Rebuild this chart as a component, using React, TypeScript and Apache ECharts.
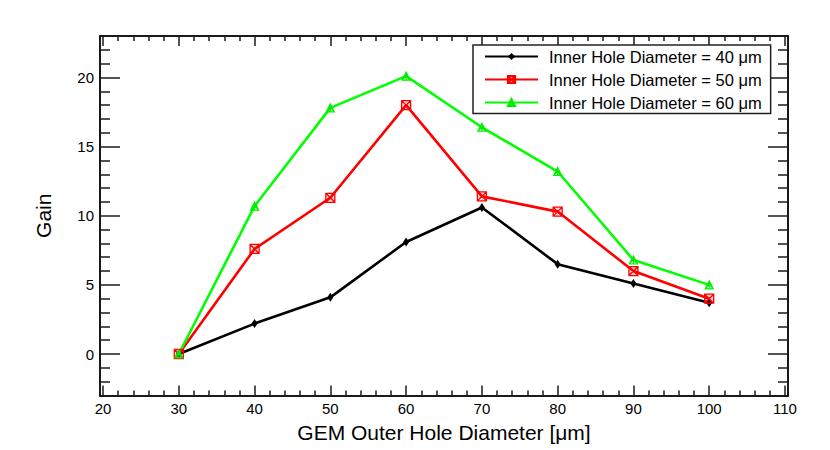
import React, { useEffect, useRef } from "react";
import * as echarts from "echarts";

const outerDiameter = [30, 40, 50, 60, 70, 80, 90, 100];
const gainInner40 = [0, 2.2, 4.1, 8.1, 10.6, 6.5, 5.1, 3.7];
const gainInner50 = [0, 7.6, 11.3, 18.0, 11.4, 10.3, 6.0, 4.0];
const gainInner60 = [0, 10.7, 17.8, 20.1, 16.4, 13.2, 6.8, 5.0];

const seriesNames = [
  "Inner Hole Diameter = 40 \u03bcm",
  "Inner Hole Diameter = 50 \u03bcm",
  "Inner Hole Diameter = 60 \u03bcm",
];

const xMajorTicks = [20, 30, 40, 50, 60, 70, 80, 90, 100, 110];
const xMinorTicks = [22, 24, 26, 28, 32, 34, 36, 38, 42, 44, 46, 48, 52, 54, 56, 58, 62, 64, 66, 68, 72, 74, 76, 78, 82, 84, 86, 88, 92, 94, 96, 98, 102, 104, 106, 108];
const yMajorTicks = [0, 5, 10, 15, 20];
const yMinorTicks = [-2, -1, 1, 2, 3, 4, 6, 7, 8, 9, 11, 12, 13, 14, 16, 17, 18, 19, 21, 22];

const X_MIN = 19.6;
const X_MAX = 110.4;
const Y_MIN = -3;
const Y_MAX = 23;

const FONT = "'Liberation Sans', Arial, Helvetica, sans-serif";
const AXIS_COLOR = "#1a1a1a";

const squareX = "path://M0,0 L10,0 L10,10 L0,10 Z M0,0 L10,10 M10,0 L0,10";
const triStar = "path://M5,0 L10,10 L0,10 Z M5,0 L5,10 M2,5 L8,5 M0,10 L5,4 L10,10";

function xAxisDef(position: "bottom" | "top", ticks: number[], len: number, main: boolean, withLabels: boolean) {
  return {
    type: "value",
    position,
    min: X_MIN,
    max: X_MAX,
    splitLine: { show: false },
    axisLine: { show: main, onZero: false, lineStyle: { color: AXIS_COLOR, width: 2 } },
    axisTick: {
      show: true,
      inside: true,
      length: len,
      customValues: ticks,
      lineStyle: { color: AXIS_COLOR, width: 1.5 },
    },
    axisLabel: withLabels
      ? { show: true, customValues: ticks, fontSize: 15, color: "#000", fontFamily: FONT, margin: 5 }
      : { show: false },
    name: withLabels ? "GEM Outer Hole Diameter [\u03bcm]" : "",
    nameLocation: "middle",
    nameGap: 26,
    nameTextStyle: { fontSize: 21, color: "#000", fontFamily: FONT },
  };
}

function yAxisDef(position: "left" | "right", ticks: number[], len: number, main: boolean, withLabels: boolean) {
  return {
    type: "value",
    position,
    min: Y_MIN,
    max: Y_MAX,
    splitLine: { show: false },
    axisLine: { show: main, onZero: false, lineStyle: { color: AXIS_COLOR, width: 2 } },
    axisTick: {
      show: true,
      inside: true,
      length: len,
      customValues: ticks,
      lineStyle: { color: AXIS_COLOR, width: 1.5 },
    },
    axisLabel: withLabels
      ? { show: true, customValues: ticks, fontSize: 15, color: "#000", fontFamily: FONT, margin: 6 }
      : { show: false },
    name: withLabels ? "Gain" : "",
    nameLocation: "middle",
    nameGap: 46,
    nameTextStyle: { fontSize: 21, color: "#000", fontFamily: FONT },
  };
}

export default function App() {
  const ref = useRef<HTMLDivElement>(null);

  useEffect(() => {
    if (!ref.current) return;
    const chart = echarts.init(ref.current, null, { renderer: "svg" });
    const pairs = (ys: number[]) => outerDiameter.map((x, i) => [x, ys[i]]);

    const option = {
      animation: false,
      backgroundColor: "#fff",
      textStyle: { fontFamily: FONT },
      grid: { left: 100, right: 42, top: 36, bottom: 54.5, containLabel: false },
      legend: {
        orient: "vertical",
        left: 473,
        top: 45,
        padding: [3, 9, 2.5, 11],
        itemGap: 6,
        itemWidth: 53,
        itemHeight: 9,
        borderColor: "#222",
        borderWidth: 1.5,
        backgroundColor: "#fff",
        textStyle: { fontSize: 16.5, color: "#000", fontFamily: FONT, padding: [0, 0, 0, 6] },
        data: seriesNames,
      },
      xAxis: [
        xAxisDef("bottom", xMajorTicks, 10, true, true),
        xAxisDef("bottom", xMinorTicks, 5, false, false),
        xAxisDef("top", xMajorTicks, 10, true, false),
        xAxisDef("top", xMinorTicks, 5, false, false),
      ],
      yAxis: [
        yAxisDef("left", yMajorTicks, 20, true, true),
        yAxisDef("left", yMinorTicks, 10, false, false),
        yAxisDef("right", yMajorTicks, 20, true, false),
        yAxisDef("right", yMinorTicks, 10, false, false),
      ],
      series: [
        {
          name: seriesNames[0],
          type: "line",
          xAxisIndex: 0,
          yAxisIndex: 0,
          data: pairs(gainInner40),
          symbol: "diamond",
          symbolSize: [6, 9],
          lineStyle: { color: "#000", width: 2.6 },
          itemStyle: { color: "#000" },
        },
        {
          name: seriesNames[1],
          type: "line",
          xAxisIndex: 0,
          yAxisIndex: 0,
          data: pairs(gainInner50),
          symbol: squareX,
          symbolSize: 9,
          lineStyle: { color: "#ff0000", width: 2.6 },
          itemStyle: { color: "rgba(255,0,0,0.15)", borderColor: "#ff0000", borderWidth: 1.3 },
        },
        {
          name: seriesNames[2],
          type: "line",
          xAxisIndex: 0,
          yAxisIndex: 0,
          data: pairs(gainInner60),
          symbol: triStar,
          symbolSize: 8,
          lineStyle: { color: "#00ff00", width: 2.6 },
          itemStyle: { color: "rgba(0,255,0,0.15)", borderColor: "#00ee00", borderWidth: 1.2 },
        },
      ],
    };

    chart.setOption(option as any);
    return () => chart.dispose();
  }, []);

  return (
    <div
      ref={ref}
      style={{ position: "fixed", left: 0, top: 0, width: 830, height: 450, background: "#fff" }}
    />
  );
}
